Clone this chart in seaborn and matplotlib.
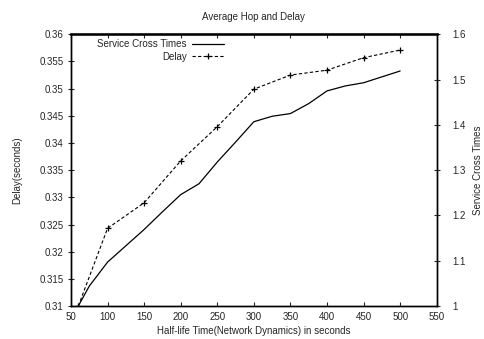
import matplotlib
matplotlib.use("Agg")
import matplotlib.pyplot as plt
import matplotlib.ticker as mticker
import seaborn as sns
import pandas as pd

sns.set_theme(style="white")
plt.rcParams['font.family'] = ['Liberation Sans', 'DejaVu Sans']

# Delay (left axis), sampled points with markers
delay_x = [60, 100, 150, 200, 250, 300, 350, 400, 450, 500]
delay_y = [0.310, 0.3243, 0.3290, 0.3367, 0.3430, 0.3499, 0.3525, 0.3534, 0.3557, 0.3571]

# Service Cross Times (right axis)
cross_x = [60, 75, 100, 125, 150, 175, 200, 225, 250, 275, 300, 325, 350, 375, 400, 425, 450, 475, 500]
cross_y = [1.0, 1.044, 1.097, 1.133, 1.169, 1.208, 1.246, 1.270, 1.318, 1.362, 1.407, 1.419, 1.425,
           1.447, 1.475, 1.486, 1.493, 1.506, 1.519]

x_ticks = [50, 100, 150, 200, 250, 300, 350, 400, 450, 500, 550]
left_ticks = [0.31, 0.315, 0.32, 0.325, 0.33, 0.335, 0.34, 0.345, 0.35, 0.355, 0.36]
right_ticks = [1, 1.1, 1.2, 1.3, 1.4, 1.5, 1.6]

delay_df = pd.DataFrame({"x": delay_x, "y": delay_y})
cross_df = pd.DataFrame({"x": cross_x, "y": cross_y})

fig = plt.figure(figsize=(4.84, 3.39), dpi=100)
ax = fig.add_axes([0.1467, 0.0973, 0.7556, 0.8015])
ax2 = ax.twinx()

sns.lineplot(data=cross_df, x="x", y="y", ax=ax2, color="black", linewidth=0.9,
             label="Service Cross Times", legend=False)
sns.lineplot(data=delay_df, x="x", y="y", ax=ax, color="black", linewidth=0.8,
             linestyle=(0, (3, 2)), marker="+", markersize=5, markeredgewidth=0.9,
             markeredgecolor="black", label="Delay", legend=False)

ax.set_xlim(50, 550)
ax.set_ylim(0.31, 0.36)
ax2.set_ylim(1, 1.6)
ax.set_xticks(x_ticks)
ax.set_yticks(left_ticks)
ax2.set_yticks(right_ticks)
ax.yaxis.set_major_formatter(mticker.FormatStrFormatter('%g'))
ax2.yaxis.set_major_formatter(mticker.FormatStrFormatter('%g'))

fs = 7
ax.tick_params(axis='x', direction='in', length=3, width=0.8, labelsize=fs, pad=4, top=True, bottom=True)
ax.tick_params(axis='y', direction='inout', length=5, width=0.8, labelsize=fs, pad=3, left=True)
ax2.tick_params(axis='y', direction='inout', length=5, width=0.8, labelsize=fs, pad=9, right=True)

for a in (ax, ax2):
    for s in a.spines.values():
        s.set_color("black")
        s.set_linewidth(1.0)
ax2.spines['top'].set_linewidth(1.8)

ax.set_xlabel("Half-life Time(Network Dynamics) in seconds", fontsize=fs, labelpad=3)
ax.set_ylabel("Delay(seconds)", fontsize=fs, labelpad=12)
ax2.set_ylabel("Service Cross Times", fontsize=fs, labelpad=5)
ax.set_title("Average Hop and Delay", fontsize=fs, pad=10)

h2, l2 = ax2.get_legend_handles_labels()
h1, l1 = ax.get_legend_handles_labels()
ax2.legend(h2 + h1, l2 + l1, loc="upper left", bbox_to_anchor=(0.05, 1.01), frameon=False,
           markerfirst=False, fontsize=fs, handlelength=3.3, handletextpad=0.6,
           labelspacing=0.25, borderpad=0.3)

fig.savefig("out.png", dpi=100, facecolor="white")
